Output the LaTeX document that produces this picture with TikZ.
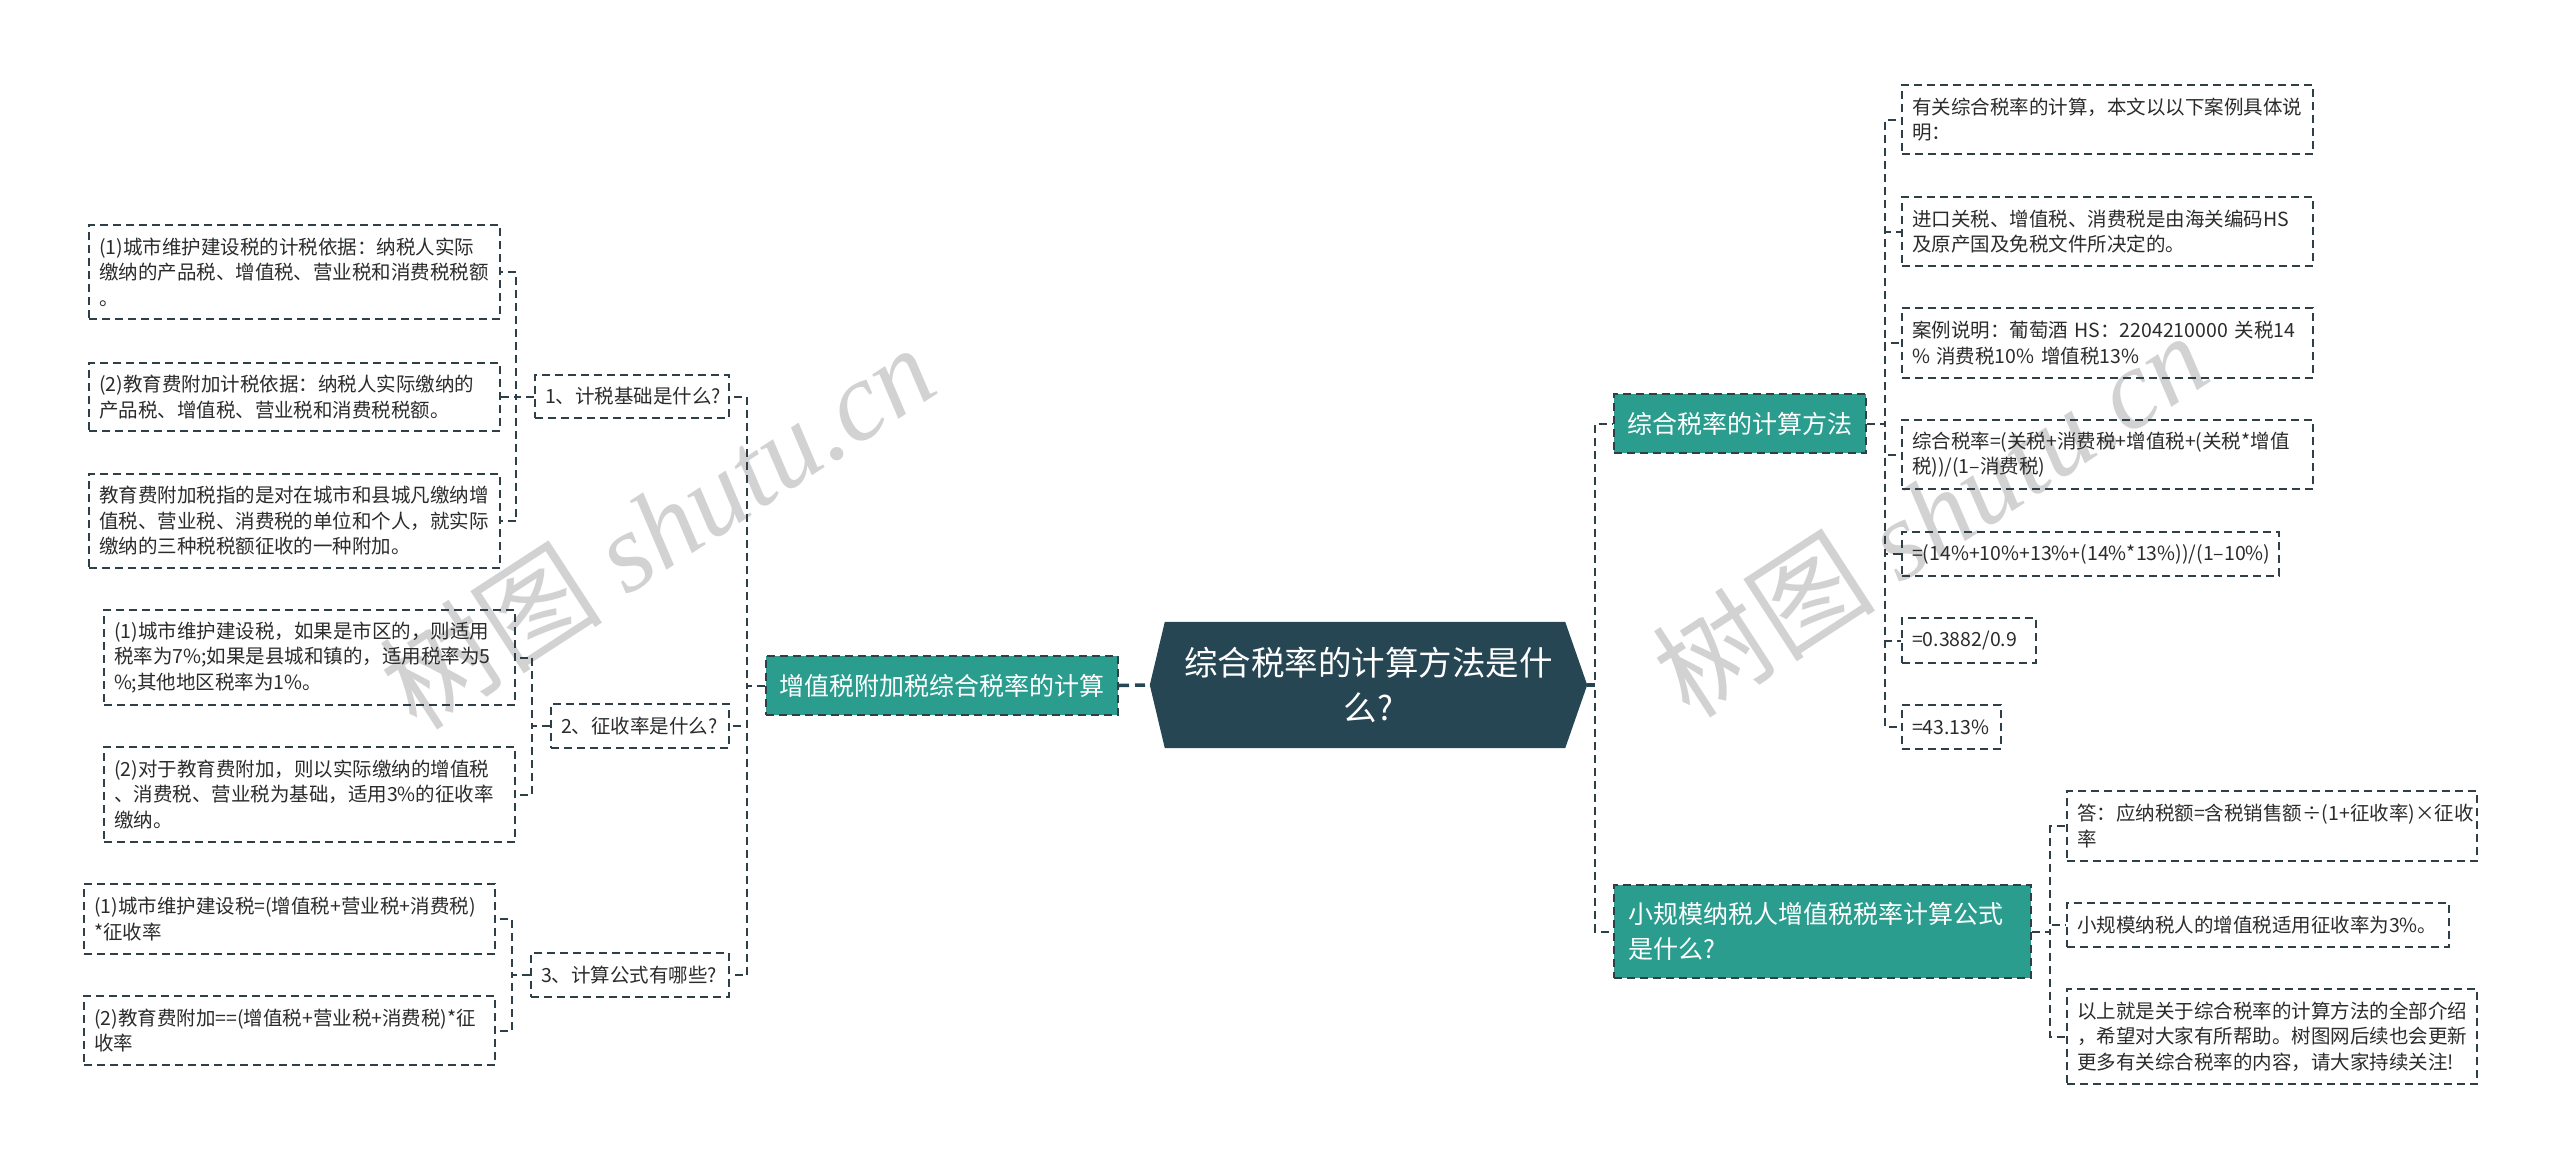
\documentclass[tikz,border=0pt]{standalone}
\usepackage{fontspec}
\setmainfont{Noto Sans CJK SC}
\newfontfamily\wmcjk{Noto Sans CJK SC}
\newfontfamily\wmlat{Liberation Serif}
\usetikzlibrary{backgrounds,calc}
\definecolor{cdark}{HTML}{264653}
\definecolor{cteal}{HTML}{2A9D8F}
\definecolor{cline}{HTML}{2E3F47}
\definecolor{ctext}{HTML}{2B2B2B}
\definecolor{cwm}{HTML}{D2D2D2}
\tikzset{
  dsh/.style={line width=2pt, dash pattern=on 8pt off 5pt},
  conn/.style={draw=cline, dsh},
  leaf/.style={draw=cline, dsh, anchor=north west, align=left, inner xsep=10pt, inner ysep=0pt,
    font=\fontsize{19.5pt}{25.5pt}\selectfont, text=ctext},
  topic/.style={fill=cteal, draw=cline, dsh, anchor=north west, inner xsep=12pt, inner ysep=0pt,
    font=\fontsize{25pt}{35pt}\selectfont, text=white},
  wmark/.style={text=cwm, rotate=33, inner sep=0pt},
}
\begin{document}
\begin{tikzpicture}[x=1pt,y=-1pt]
\useasboundingbox (0,0) rectangle (2560,1167);
% watermarks
\node[wmark] (wm1) at (657,526) {\fontsize{112pt}{112pt}\selectfont\wmcjk 树图 \wmlat\itshape shutu.cn};
\node[wmark] (wm2) at (1930,514) {\fontsize{112pt}{112pt}\selectfont\wmcjk 树图 \wmlat\itshape shutu.cn};

% center
\node[inner sep=0pt, minimum width=437pt, minimum height=126pt, text width=410pt, align=center,
  font=\fontsize{33.5pt}{45pt}\selectfont, text=white] (C) at (1368.5,685) {综合税率的计算方法是什\\么?};
\begin{pgfonlayer}{background}
\fill[cdark] ($(C.north west)+(15,0)$) -- ($(C.north east)+(-22,0)$) -- (C.east)
  -- ($(C.south east)+(-22,0)$) -- ($(C.south west)+(15,0)$) -- (C.west) -- cycle;
\end{pgfonlayer}

% left side
\node[topic, text width=328pt, minimum height=59pt, align=center] (M1) at (765,655) {增值税附加税综合税率的计算};
\node[leaf, text width=174pt, minimum height=43pt] (Q1) at (534,374) {1、计税基础是什么?};
\node[leaf, text width=158pt, minimum height=44pt] (Q2) at (550,703) {2、征收率是什么?};
\node[leaf, text width=178pt, minimum height=44pt] (Q3) at (530,952) {3、计算公式有哪些?};

\node[leaf, text width=391pt, minimum height=94pt] (L1) at (88,224) {(1)城市维护建设税的计税依据：纳税人实际\\缴纳的产品税、增值税、营业税和消费税税额\\。};
\node[leaf, text width=391pt, minimum height=68pt] (L2) at (88,362) {(2)教育费附加计税依据：纳税人实际缴纳的\\产品税、增值税、营业税和消费税税额。};
\node[leaf, text width=391pt, minimum height=94pt] (L3) at (88,473) {教育费附加税指的是对在城市和县城凡缴纳增\\值税、营业税、消费税的单位和个人，就实际\\缴纳的三种税税额征收的一种附加。};
\node[leaf, text width=391pt, minimum height=95pt] (L4) at (103,609) {(1)城市维护建设税，如果是市区的，则适用\\税率为7\%;如果是县城和镇的，适用税率为5\\\%;其他地区税率为1\%。};
\node[leaf, text width=391pt, minimum height=95pt] (L5) at (103,746) {(2)对于教育费附加，则以实际缴纳的增值税\\、消费税、营业税为基础，适用3\%的征收率\\缴纳。};
\node[leaf, text width=391pt, minimum height=70pt] (L6) at (83,883) {(1)城市维护建设税=(增值税+营业税+消费税)\\\relax{*}征收率};
\node[leaf, text width=391pt, minimum height=69pt] (L7) at (83,995) {(2)教育费附加==(增值税+营业税+消费税)*征\\收率};

% right side
\node[topic, text width=228pt, minimum height=59pt, align=center] (M2) at (1613,393) {综合税率的计算方法};
\node[topic, inner xsep=14pt, text width=389pt, minimum height=93pt, align=left] (M3) at (1613,884) {小规模纳税人增值税税率计算公式\\是什么?};

\node[leaf, text width=391pt, minimum height=69pt] (R1) at (1901,84) {有关综合税率的计算，本文以以下案例具体说\\明：};
\node[leaf, text width=391pt, minimum height=69pt] (R2) at (1901,196) {进口关税、增值税、消费税是由海关编码HS\\及原产国及免税文件所决定的。};
\node[leaf, text width=391pt, minimum height=70pt] (R3) at (1901,307) {\mbox{案例说明：葡萄酒 HS：2204210000 关税14}\\\% 消费税10\% 增值税13\%};
\node[leaf, text width=391pt, minimum height=69pt] (R4) at (1901,419) {综合税率=(关税+消费税+增值税+(关税*增值\\税))/(1–消费税)};
\node[leaf, text width=357pt, minimum height=44pt] (R5) at (1901,531) {\mbox{=(14\%+10\%+13\%+(14\%*13\%))/(1–10\%)}};
\node[leaf, text width=114pt, minimum height=45pt] (R6) at (1901,617) {=0.3882/0.9};
\node[leaf, text width=79pt, minimum height=44pt] (R7) at (1901,704) {=43.13\%};

\node[leaf, text width=390pt, minimum height=70pt] (S1) at (2066,790) {答：应纳税额=含税销售额÷(1+征收率)×征收\\率};
\node[leaf, text width=362pt, minimum height=44pt] (S2) at (2066,902) {小规模纳税人的增值税适用征收率为3\%。};
\node[leaf, text width=390pt, minimum height=95pt] (S3) at (2066,988) {以上就是关于综合税率的计算方法的全部介绍\\，希望对大家有所帮助。树图网后续也会更新\\更多有关综合税率的内容，请大家持续关注!};

% connectors
\draw[draw=cdark, line width=3.5pt, dash pattern=on 10pt off 6pt] (M1.east) -- (C.west);
\foreach \q in {Q1,Q2,Q3} \draw[conn] (M1.west) -- ++(-18,0) |- (\q.east);
\foreach \l in {L1,L2,L3} \draw[conn] (Q1.west) -- ++(-18,0) |- (\l.east);
\foreach \l in {L4,L5} \draw[conn] (Q2.west) -- ++(-18,0) |- (\l.east);
\foreach \l in {L6,L7} \draw[conn] (Q3.west) -- ++(-18,0) |- (\l.east);

\draw[draw=cdark, line width=3.5pt] (C.east) -- ++(8,0);
\foreach \m in {M2,M3} \draw[conn] (C.east) -- ++(8,0) |- (\m.west);
\foreach \r in {R1,R2,R3,R4,R5,R6,R7} \draw[conn] (M2.east) -- ++(18,0) |- (\r.west);
\foreach \s in {S1,S2,S3} \draw[conn] (M3.east) -- ++(18,0) |- (\s.west);
\end{tikzpicture}
\end{document}
